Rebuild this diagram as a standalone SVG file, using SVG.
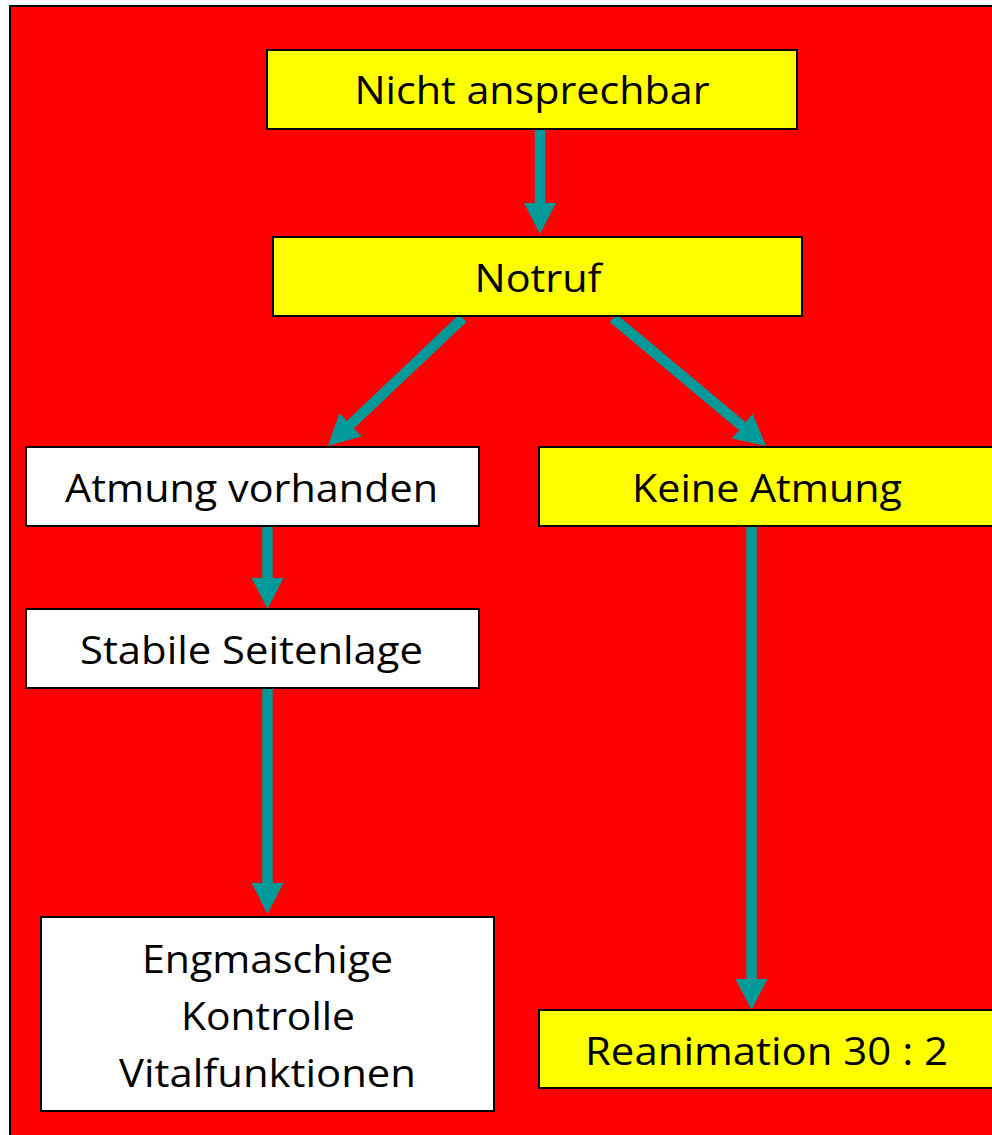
<svg xmlns="http://www.w3.org/2000/svg" width="992" height="1135" viewBox="0 0 992 1135">
<style>
.box{stroke:#000;stroke-width:2}
.y{fill:#ffff00}
.w{fill:#ffffff}
.t{font-family:"Open Sans","Liberation Sans",sans-serif;font-size:39px;fill:#000;text-anchor:middle}
.c{stroke:#009999;stroke-width:10.5;fill:none;marker-end:url(#ah)}
</style>
<defs>
<marker id="ah" markerUnits="userSpaceOnUse" viewBox="0 0 31 32" markerWidth="31" markerHeight="32" refX="6" refY="16" orient="auto">
<path d="M0,0 L31,16 L0,32 Z" fill="#009999"/>
</marker>
</defs>
<rect x="10" y="6" width="1000" height="1150" fill="#ff0000" stroke="#000" stroke-width="2"/>
<g id="connectors">
<line class="c" x1="540" y1="129" x2="540" y2="209"/>
<line class="c" x1="463" y1="318" x2="346.1" y2="428.8"/>
<line class="c" x1="613" y1="318" x2="746.8" y2="430"/>
<line class="c" x1="267.5" y1="526" x2="267.5" y2="584"/>
<line class="c" x1="267.5" y1="688" x2="267.5" y2="889"/>
<line class="c" x1="751.5" y1="526" x2="751.5" y2="985"/>
</g>
<g id="n1"><rect class="box y" x="267" y="50" width="530" height="79"/><text class="t" x="532" y="104" textLength="355" lengthAdjust="spacingAndGlyphs">Nicht ansprechbar</text></g>
<g id="n2"><rect class="box y" x="273" y="237" width="529" height="79"/><text class="t" x="538" y="292" textLength="127" lengthAdjust="spacingAndGlyphs">Notruf</text></g>
<g id="n3"><rect class="box w" x="26" y="447" width="453" height="79"/><text class="t" x="251.5" y="502" textLength="373" lengthAdjust="spacingAndGlyphs">Atmung vorhanden</text></g>
<g id="n4"><rect class="box y" x="539" y="447" width="470" height="79"/><text class="t" x="767" y="502" textLength="270" lengthAdjust="spacingAndGlyphs">Keine Atmung</text></g>
<g id="n5"><rect class="box w" x="26" y="609" width="453" height="79"/><text class="t" x="251.5" y="664" textLength="343" lengthAdjust="spacingAndGlyphs">Stabile Seitenlage</text></g>
<g id="n6"><rect class="box w" x="41" y="917" width="453" height="194"/>
<text class="t" x="267.5" y="973" textLength="251" lengthAdjust="spacingAndGlyphs">Engmaschige</text>
<text class="t" x="268" y="1030" textLength="174" lengthAdjust="spacingAndGlyphs">Kontrolle</text>
<text class="t" x="267.5" y="1087" textLength="297" lengthAdjust="spacingAndGlyphs">Vitalfunktionen</text></g>
<g id="n7"><rect class="box y" x="539" y="1010" width="470" height="78"/><text class="t" x="766.5" y="1065" textLength="363" lengthAdjust="spacingAndGlyphs">Reanimation 30 : 2</text></g>
</svg>
